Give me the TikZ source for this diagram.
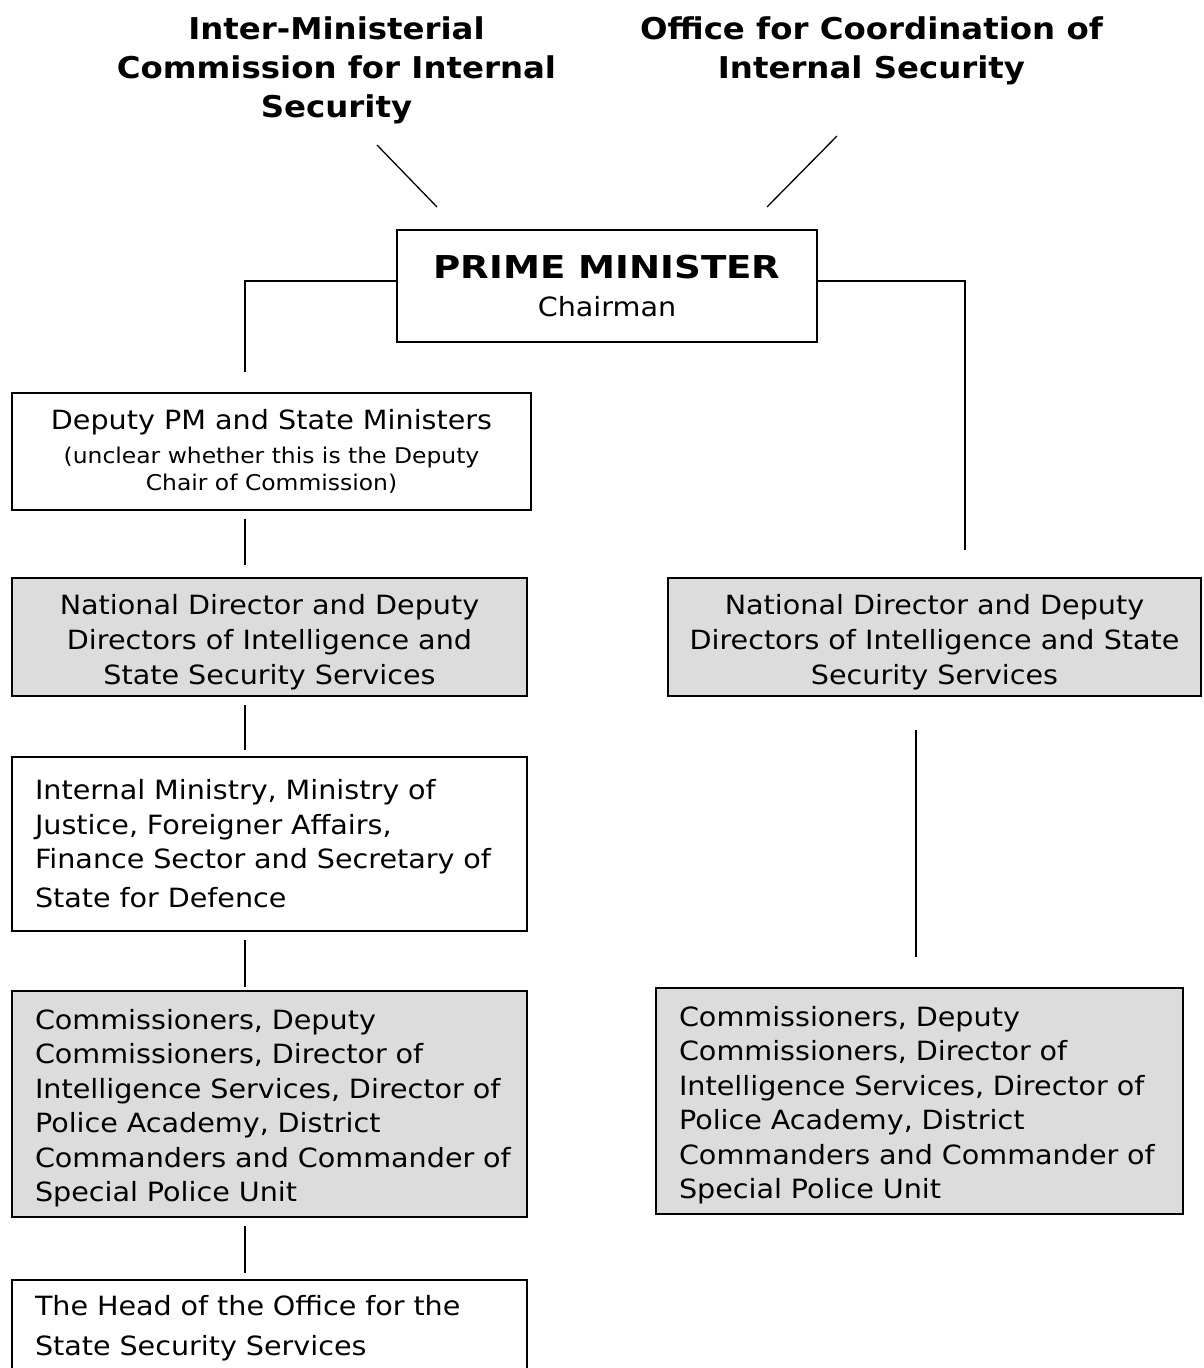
\documentclass[tikz,border=0pt]{standalone}
\usepackage{fontspec}
\setmainfont[FakeStretch=1.08]{DejaVu Sans}
\newfontfamily\pmfont[FakeStretch=1.18]{DejaVu Sans}
\definecolor{boxgray}{HTML}{DCDCDC}
\newcommand{\bodysize}{\fontsize{26.5}{34.4}\selectfont}
\newcommand{\smallsize}{\fontsize{21.7}{27}\selectfont}
\newcommand{\titlesize}{\fontsize{30}{39}\selectfont\bfseries}
\begin{document}
\begin{tikzpicture}[x=1pt,y=-1pt,
  box/.style={draw=black, line width=1.4pt, inner sep=0pt},
  graybox/.style={box, fill=boxgray},
  conn/.style={draw=black, line width=1.3pt},
  title/.style={inner sep=0pt, align=center, font=\titlesize}]
\useasboundingbox (0,0) rectangle (1203,1368);
\fill[white] (0,0) rectangle (1203,1368);

% titles
\node[title] (imc) at (336.5,70) {Inter-Ministerial\\Commission for Internal\\Security};
\node[title] (oci) at (871.5,51) {Office for Coordination of\\Internal Security};

% prime minister
\node[box, minimum width=420pt, minimum height=112pt, align=center, font=\bodysize] (pm) at (607,286)
  {{\pmfont\fontsize{31.5}{34}\selectfont\bfseries PRIME MINISTER}\\[3pt]Chairman};

% left column
\node[box, minimum width=519pt, minimum height=117pt, align=center, font=\bodysize] (dep) at (271.5,451.5)
  {Deputy PM and State Ministers\\{\smallsize (unclear whether this is the Deputy}\\[-7.4pt]{\smallsize Chair of Commission)}};
\node[graybox, minimum width=515pt, minimum height=118pt, align=center, font=\bodysize] (ndl) at (269.5,637)
  {\rule{0pt}{30pt}National Director and Deputy\\[0.6pt]Directors of Intelligence and\\[0.6pt]State Security Services};
\node[box, minimum width=515pt, minimum height=174pt, text width=469pt, align=left, font=\bodysize] (intm) at (269.5,844)
  {\mbox{Internal Ministry, Ministry of}\\\mbox{Justice, Foreigner Affairs,}\\\mbox{Finance Sector and Secretary of}\\[5pt]\mbox{State for Defence}};
\node[graybox, minimum width=515pt, minimum height=226pt, text width=469pt, align=left, font=\bodysize] (coml) at (269.5,1104)
  {\mbox{\rule{0pt}{28.5pt}Commissioners, Deputy}\\\mbox{Commissioners, Director of}\\\mbox{Intelligence Services, Director of}\\\mbox{Police Academy, District}\\\mbox{Commanders and Commander of}\\\mbox{Special Police Unit}};
\node[box, minimum width=515pt, minimum height=96pt, text width=469pt, align=left, font=\bodysize] (head) at (269.5,1328)
  {\mbox{The Head of the Office for the}\\[6pt]\mbox{State Security Services}};

% right column
\node[graybox, minimum width=533pt, minimum height=118pt, align=center, font=\bodysize] (ndr) at (934.5,637)
  {\rule{0pt}{30pt}National Director and Deputy\\[0.6pt]Directors of Intelligence and State\\[0.6pt]Security Services};
\node[graybox, minimum width=527pt, minimum height=226pt, text width=481pt, align=left, font=\bodysize] (comr) at (919.5,1101)
  {\mbox{\rule{0pt}{28.5pt}Commissioners, Deputy}\\\mbox{Commissioners, Director of}\\\mbox{Intelligence Services, Director of}\\\mbox{Police Academy, District}\\\mbox{Commanders and Commander of}\\\mbox{Special Police Unit}};

% connector end points
\coordinate (d1a) at (377,145); \coordinate (d1b) at (437,207);
\coordinate (d2a) at (837,136); \coordinate (d2b) at (767,207);
\coordinate (lpm) at (245,372);
\coordinate (rpm) at (965,550);
\coordinate (v1a) at (245,519); \coordinate (v1b) at (245,565);
\coordinate (v2a) at (245,705); \coordinate (v2b) at (245,750);
\coordinate (v3a) at (245,940); \coordinate (v3b) at (245,987);
\coordinate (v4a) at (245,1226); \coordinate (v4b) at (245,1273);
\coordinate (v5a) at (916,730); \coordinate (v5b) at (916,957);

\draw[conn] (d1a) -- (d1b);
\draw[conn] (d2a) -- (d2b);
\draw[conn] ([yshift=5pt]pm.west) -| (lpm);
\draw[conn] ([yshift=5pt]pm.east) -| (rpm);
\draw[conn] (v1a) -- (v1b);
\draw[conn] (v2a) -- (v2b);
\draw[conn] (v3a) -- (v3b);
\draw[conn] (v4a) -- (v4b);
\draw[conn] (v5a) -- (v5b);
\end{tikzpicture}
\end{document}
